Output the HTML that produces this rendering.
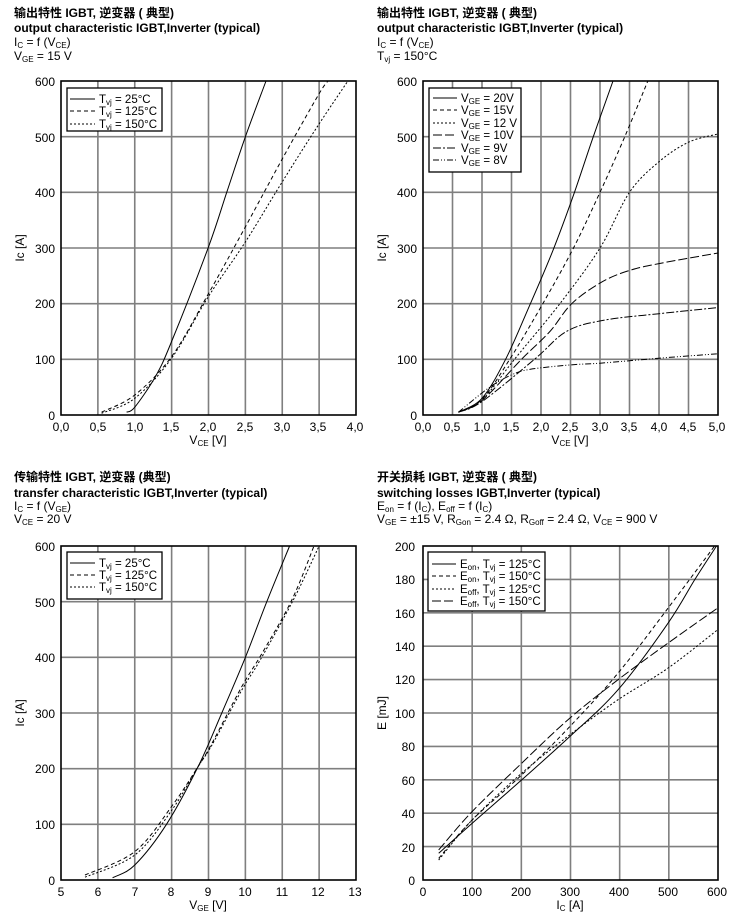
<!DOCTYPE html>
<html><head><meta charset="utf-8"><style>
body{margin:0;background:#fff;}
svg{display:block;font-family:"Liberation Sans","Noto Sans CJK SC",sans-serif;}
.t{font-weight:bold;font-size:12px;}
.s{font-size:12px;}
.k{font-size:12px;}
.sub{font-size:8px;}
</style></head><body>
<svg id="s" width="740" height="916" viewBox="0 0 740 916">
<g id="grid"></g>
<g id="curves" fill="none" stroke="#000" stroke-width="1"></g>
<text class="t" x="14" y="17">输出特性 IGBT, 逆变器 ( 典型)</text>
<text class="t" x="14" y="32">output characteristic IGBT,Inverter (typical)</text>
<text class="s" x="14" y="46">I<tspan class="sub" dy="2">C</tspan><tspan dy="-2"> = f (V</tspan><tspan class="sub" dy="2">CE</tspan><tspan dy="-2">)</tspan></text>
<text class="s" x="14" y="60">V<tspan class="sub" dy="2">GE</tspan><tspan dy="-2"> = 15 V</tspan></text>

<text class="t" x="377" y="17">输出特性 IGBT, 逆变器 ( 典型)</text>
<text class="t" x="377" y="32">output characteristic IGBT,Inverter (typical)</text>
<text class="s" x="377" y="46">I<tspan class="sub" dy="2">C</tspan><tspan dy="-2"> = f (V</tspan><tspan class="sub" dy="2">CE</tspan><tspan dy="-2">)</tspan></text>
<text class="s" x="377" y="60">T<tspan class="sub" dy="2">vj</tspan><tspan dy="-2"> = 150°C</tspan></text>

<text class="t" x="14" y="481">传输特性 IGBT, 逆变器 (典型)</text>
<text class="t" x="14" y="497">transfer characteristic IGBT,Inverter (typical)</text>
<text class="s" x="14" y="510">I<tspan class="sub" dy="2">C</tspan><tspan dy="-2"> = f (V</tspan><tspan class="sub" dy="2">GE</tspan><tspan dy="-2">)</tspan></text>
<text class="s" x="14" y="523">V<tspan class="sub" dy="2">CE</tspan><tspan dy="-2"> = 20 V</tspan></text>

<text class="t" x="377" y="481">开关损耗 IGBT, 逆变器 ( 典型)</text>
<text class="t" x="377" y="497">switching losses IGBT,Inverter (typical)</text>
<text class="s" x="377" y="510">E<tspan class="sub" dy="2">on</tspan><tspan dy="-2"> = f (I</tspan><tspan class="sub" dy="2">C</tspan><tspan dy="-2">), E</tspan><tspan class="sub" dy="2">off</tspan><tspan dy="-2"> = f (I</tspan><tspan class="sub" dy="2">C</tspan><tspan dy="-2">)</tspan></text>
<text class="s" x="377" y="523">V<tspan class="sub" dy="2">GE</tspan><tspan dy="-2"> = ±15 V, R</tspan><tspan class="sub" dy="2">Gon</tspan><tspan dy="-2"> = 2.4 Ω, R</tspan><tspan class="sub" dy="2">Goff</tspan><tspan dy="-2"> = 2.4 Ω, V</tspan><tspan class="sub" dy="2">CE</tspan><tspan dy="-2"> = 900 V</tspan></text>

<g class="k" text-anchor="end">
<text x="55" y="86">600</text><text x="55" y="142">500</text><text x="55" y="197">400</text><text x="55" y="253">300</text><text x="55" y="308">200</text><text x="55" y="364">100</text><text x="55" y="420">0</text>
<text x="417" y="86">600</text><text x="417" y="142">500</text><text x="417" y="197">400</text><text x="417" y="253">300</text><text x="417" y="308">200</text><text x="417" y="364">100</text><text x="417" y="420">0</text>
<text x="55" y="551">600</text><text x="55" y="607">500</text><text x="55" y="662">400</text><text x="55" y="718">300</text><text x="55" y="773">200</text><text x="55" y="829">100</text><text x="55" y="885">0</text>
<text x="415" y="551">200</text><text x="415" y="584">180</text><text x="415" y="618">160</text><text x="415" y="651">140</text><text x="415" y="684">120</text><text x="415" y="718">100</text><text x="415" y="751">80</text><text x="415" y="785">60</text><text x="415" y="818">40</text><text x="415" y="852">20</text><text x="415" y="885">0</text>
</g>
<g class="k" text-anchor="middle">
<text x="61" y="431">0,0</text><text x="98" y="431">0,5</text><text x="135" y="431">1,0</text><text x="171" y="431">1,5</text><text x="208" y="431">2,0</text><text x="245" y="431">2,5</text><text x="282" y="431">3,0</text><text x="318" y="431">3,5</text><text x="355" y="431">4,0</text>
<text x="423" y="431">0,0</text><text x="452" y="431">0,5</text><text x="482" y="431">1,0</text><text x="511" y="431">1,5</text><text x="541" y="431">2,0</text><text x="570" y="431">2,5</text><text x="600" y="431">3,0</text><text x="629" y="431">3,5</text><text x="659" y="431">4,0</text><text x="688" y="431">4,5</text><text x="717" y="431">5,0</text>
<text x="61" y="896">5</text><text x="98" y="896">6</text><text x="135" y="896">7</text><text x="171" y="896">8</text><text x="208" y="896">9</text><text x="245" y="896">10</text><text x="282" y="896">11</text><text x="318" y="896">12</text><text x="355" y="896">13</text>
<text x="423" y="896">0</text><text x="472" y="896">100</text><text x="521" y="896">200</text><text x="570" y="896">300</text><text x="619" y="896">400</text><text x="668" y="896">500</text><text x="717" y="896">600</text>
</g>
<g class="k">
<text x="208" y="444" text-anchor="middle">V<tspan class="sub" dy="2">CE</tspan><tspan dy="-2"> [V]</tspan></text>
<text x="570" y="444" text-anchor="middle">V<tspan class="sub" dy="2">CE</tspan><tspan dy="-2"> [V]</tspan></text>
<text x="208" y="909" text-anchor="middle">V<tspan class="sub" dy="2">GE</tspan><tspan dy="-2"> [V]</tspan></text>
<text x="570" y="909" text-anchor="middle">I<tspan class="sub" dy="2">C</tspan><tspan dy="-2"> [A]</tspan></text>
<text transform="translate(24,248) rotate(-90)" text-anchor="middle">Ic [A]</text>
<text transform="translate(386,248) rotate(-90)" text-anchor="middle">Ic [A]</text>
<text transform="translate(24,713) rotate(-90)" text-anchor="middle">Ic [A]</text>
<text transform="translate(386,713) rotate(-90)" text-anchor="middle">E [mJ]</text>
</g>
<g id="legends"></g>
</svg>
<script>
var NS="http://www.w3.org/2000/svg";
function el(p,n,a){var e=document.createElementNS(NS,n);for(var k in a)e.setAttribute(k,a[k]);p.appendChild(e);return e;}
var grid=document.getElementById('grid'),cur=document.getElementById('curves'),leg=document.getElementById('legends');
var P=[
 {x0:61,x1:356,y0:81,y1:415,xa:0,xb:4,ya:0,yb:600,nx:8,ny:6},
 {x0:423,x1:718,y0:81,y1:415,xa:0,xb:5,ya:0,yb:600,nx:10,ny:6},
 {x0:61,x1:356,y0:546,y1:880,xa:5,xb:13,ya:0,yb:600,nx:8,ny:6},
 {x0:423,x1:718,y0:546,y1:880,xa:0,xb:600,ya:0,yb:200,nx:6,ny:10}];
P.forEach(function(p){
 for(var i=1;i<p.nx;i++){var x=p.x0+(p.x1-p.x0)*i/p.nx;el(grid,'line',{x1:x,x2:x,y1:p.y0,y2:p.y1,stroke:'#7f7f7f','stroke-width':1.6});}
 for(var j=1;j<p.ny;j++){var y=p.y0+(p.y1-p.y0)*j/p.ny;el(grid,'line',{x1:p.x0,x2:p.x1,y1:y,y2:y,stroke:'#7f7f7f','stroke-width':1.6});}
 el(grid,'rect',{x:p.x0,y:p.y0,width:p.x1-p.x0,height:p.y1-p.y0,fill:'none',stroke:'#000','stroke-width':1.6});
});
function tr(p,pt){return [p.x0+(pt[0]-p.xa)/(p.xb-p.xa)*(p.x1-p.x0), p.y1-(pt[1]-p.ya)/(p.yb-p.ya)*(p.y1-p.y0)];}
function curve(pi,pts,dash){
 var p=P[pi];var q=pts.map(function(a){return tr(p,a);});
 var d='M'+q[0][0].toFixed(1)+','+q[0][1].toFixed(1);
 for(var i=0;i<q.length-1;i++){
  var a=q[i-1]||q[i],b=q[i],c=q[i+1],e=q[i+2]||c;
  d+=' C'+(b[0]+(c[0]-a[0])/6).toFixed(1)+','+(b[1]+(c[1]-a[1])/6).toFixed(1)+' '+(c[0]-(e[0]-b[0])/6).toFixed(1)+','+(c[1]-(e[1]-b[1])/6).toFixed(1)+' '+c[0].toFixed(1)+','+c[1].toFixed(1);
 }
 var at={d:d};if(dash)at['stroke-dasharray']=dash;el(cur,'path',at);
}
var D1='4,3',D2='2,2',D3='9,3',D4='8,2,2,2',D5='6,2,1,2,1,2';
curve(0,[[0.89,5],[1.0,14],[1.28,69],[1.5,132],[2.0,302],[2.25,401],[2.5,500],[2.78,600]]);
curve(0,[[0.55,5],[1.0,36],[1.5,105],[2.0,218],[2.5,338],[3.0,460],[3.49,575],[3.62,600]],D1);
curve(0,[[0.55,3],[1.0,30],[1.5,102],[2.0,213],[2.5,311],[3.0,419],[3.49,521],[3.89,600]],D2);
curve(1,[[0.6,5],[1.0,30],[1.4,100],[1.8,195],[2.2,295],[2.55,395],[2.88,498],[3.22,600]]);
curve(1,[[0.6,5],[1.0,28],[1.47,100],[2.03,200],[2.55,300],[3.0,400],[3.42,500],[3.81,600]],D1);
curve(1,[[0.6,5],[1.0,27],[1.55,100],[2.32,200],[3.0,300],[3.5,400],[4.0,455],[4.5,490],[5.0,505]],D2);
curve(1,[[0.6,5],[1.0,26],[1.67,100],[2.15,150],[2.52,200],[3.0,237],[3.45,258],[4.0,272],[5.0,291]],D3);
curve(1,[[0.6,5],[1.0,24],[1.89,100],[2.43,150],[3.05,170],[4.0,182],[5.0,193]],D4);
curve(1,[[0.6,5],[1.13,50],[1.5,72],[1.81,82],[2.5,90],[3.0,93],[4.0,102],[5.0,110]],D5);
curve(2,[[6.4,4],[7,27],[7.86,100],[8.72,204],[9.36,300],[10,400],[10.58,500],[11.2,600]]);
curve(2,[[5.65,9],[7,51],[8,132],[8.72,204],[9.09,245],[9.9,347],[10.45,407],[11.26,503],[11.86,600]],D1);
curve(2,[[5.65,5],[7,45],[8,125],[8.72,204],[9.09,242],[9.9,341],[10.4,395],[11.3,503],[12,600]],D2);
curve(3,[[32,16],[100,34],[201,60],[299,86],[397,114],[499,154],[553,180],[597,200]]);
curve(3,[[32,13],[100,36],[201,63],[299,92],[397,124],[499,163],[593,200]],D1);
curve(3,[[32,12],[100,36],[201,64],[299,87],[397,108],[499,127],[600,150]],D2);
curve(3,[[32,18],[100,41],[201,70],[299,97],[397,120],[499,142],[600,163]],D3);
function legend(x,y,w,h,rows,tx,lx0,lx1){
 el(leg,'rect',{x:x,y:y,width:w,height:h,fill:'#fff',stroke:'#000','stroke-width':1.3});
 rows.forEach(function(r){var a={x1:lx0,x2:lx1,y1:r[0],y2:r[0],stroke:'#000','stroke-width':1};if(r[1])a['stroke-dasharray']=r[1];el(leg,'line',a);
  var t=el(leg,'text',{x:tx,y:r[0]+4,'font-size':'11.5px'});t.innerHTML=r[2];});
}
var T=function(v){return 'T<tspan class="sub" dy="2">vj</tspan><tspan dy="-2"> = '+v+'</tspan>';};
legend(67,88,95,43,[[99,null,T('25°C')],[111,D1,T('125°C')],[124,D2,T('150°C')]],99,70,95);
legend(67,552,95,47,[[563,null,T('25°C')],[575,D1,T('125°C')],[587,D2,T('150°C')]],99,70,95);
var V=function(v){return 'V<tspan class="sub" dy="2">GE</tspan><tspan dy="-2"> = '+v+'</tspan>';};
legend(429,88,92,84,[[98,null,V('20V')],[110,D1,V('15V')],[123,D2,V('12 V')],[135,D3,V('10V')],[148,D4,V('9V')],[160,D5,V('8V')]],461,433,457);
var E=function(s,v){return 'E<tspan class="sub" dy="2">'+s+'</tspan><tspan dy="-2">, T</tspan><tspan class="sub" dy="2">vj</tspan><tspan dy="-2"> = '+v+'</tspan>';};
legend(428,552,117,59,[[564,null,E('on','125°C')],[576,D1,E('on','150°C')],[589,D2,E('off','125°C')],[601,D3,E('off','150°C')]],460,432,456);
</script>
</body></html>
